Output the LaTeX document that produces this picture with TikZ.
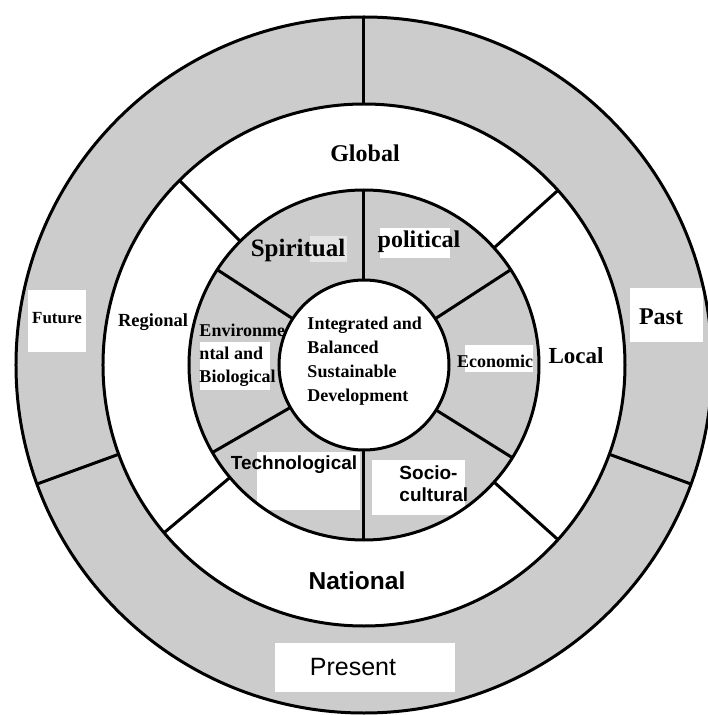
\documentclass[tikz,border=0pt]{standalone}
\usepackage{fontspec}
\setmainfont{Liberation Serif}
\setsansfont{Liberation Sans}

\begin{document}
\begin{tikzpicture}[x=1pt, y=1pt, line width=3pt,
        band/.style={fill=gray!40},
        patch/.style={fill=white},
        srf/.style={font=\bfseries\fontsize{#1}{#1}\selectfont, inner sep=0pt},
        snf/.style={font=\sffamily\bfseries\fontsize{#1}{#1}\selectfont, inner sep=0pt}]
        \useasboundingbox (-364, -350) rectangle (343, 365);

        \fill[band] (0, 0) circle (348pt);
        \fill[white] (0, 0) circle (261pt);
        \fill[band] (0, 0) circle (175pt);

        \fill[patch] (-336, 75) rectangle (-278, 13);
        \fill[patch] (266, 77) rectangle (339, 23);
        \fill[patch] (-89, -278) rectangle (91, -327);
        \fill[patch] (-107, -87) rectangle (-4, -145);
        \fill[patch] (8, -95) rectangle (101, -150);
        \fill[patch] (101, 20) rectangle (169, -7);
        \fill[patch] (-164, 23) rectangle (-94, -25);
        \fill[patch] (16, 137) rectangle (86, 107);
        \fill[patch, opacity=.5] (-54, 129) rectangle (-17, 103);

        \node[align=left, anchor=west, inner sep=0pt, font=\bfseries\fontsize{18}{23}\selectfont] (envbio) at (-166, 10) {Environme\\ntal and\\Biological};
        \fill[white] (0, 0) circle (85pt);

        \draw (0, 0) circle (348pt) (0, 0) circle (261pt) (0, 0) circle (175pt) (0, 0) circle (85pt);
        \foreach \a in {90, 200, 340} \draw (\a:261pt) -- (\a:348pt);
        \foreach \a in {42, 135, 220, 318} \draw (\a:175pt) -- (\a:261pt);
        \foreach \a in {33, 90, 147, 210, 270, 328} \draw (\a:85pt) -- (\a:175pt);

        \node[align=left, anchor=west, inner sep=0pt, font=\bfseries\fontsize{18}{24}\selectfont] (core) at (-58, 4) {Integrated and\\Balanced\\Sustainable\\Development};

        \node[srf=24] (global) at (1, 212) {Global};
        \node[srf=25] (spirit) at (-66, 115) {Spiritual};
        \node[srf=24] (polit) at (55, 123) {political};
        \node[srf=18] (econ) at (131, 4) {Economic};
        \node[srf=23] (local) at (212, 9) {Local};
        \node[srf=24] (past) at (297, 48) {Past};
        \node[srf=18.5] (region) at (-211, 43) {Regional};
        \node[srf=17] (future) at (-307, 47) {Future};

        \node[snf=19] (techno) at (-70, -100) {Technological};
        \node[align=left, anchor=west, inner sep=0pt, font=\sffamily\bfseries\fontsize{19}{22}\selectfont] (socio) at (34, -119) {Socio-\\cultural};
        \node[snf=24.5] (nation) at (-7, -216) {National};
        \node[font=\sffamily\fontsize{25}{25}\selectfont, inner sep=0pt] (present) at (-11, -302) {Present};
    \end{tikzpicture}
\end{document}
